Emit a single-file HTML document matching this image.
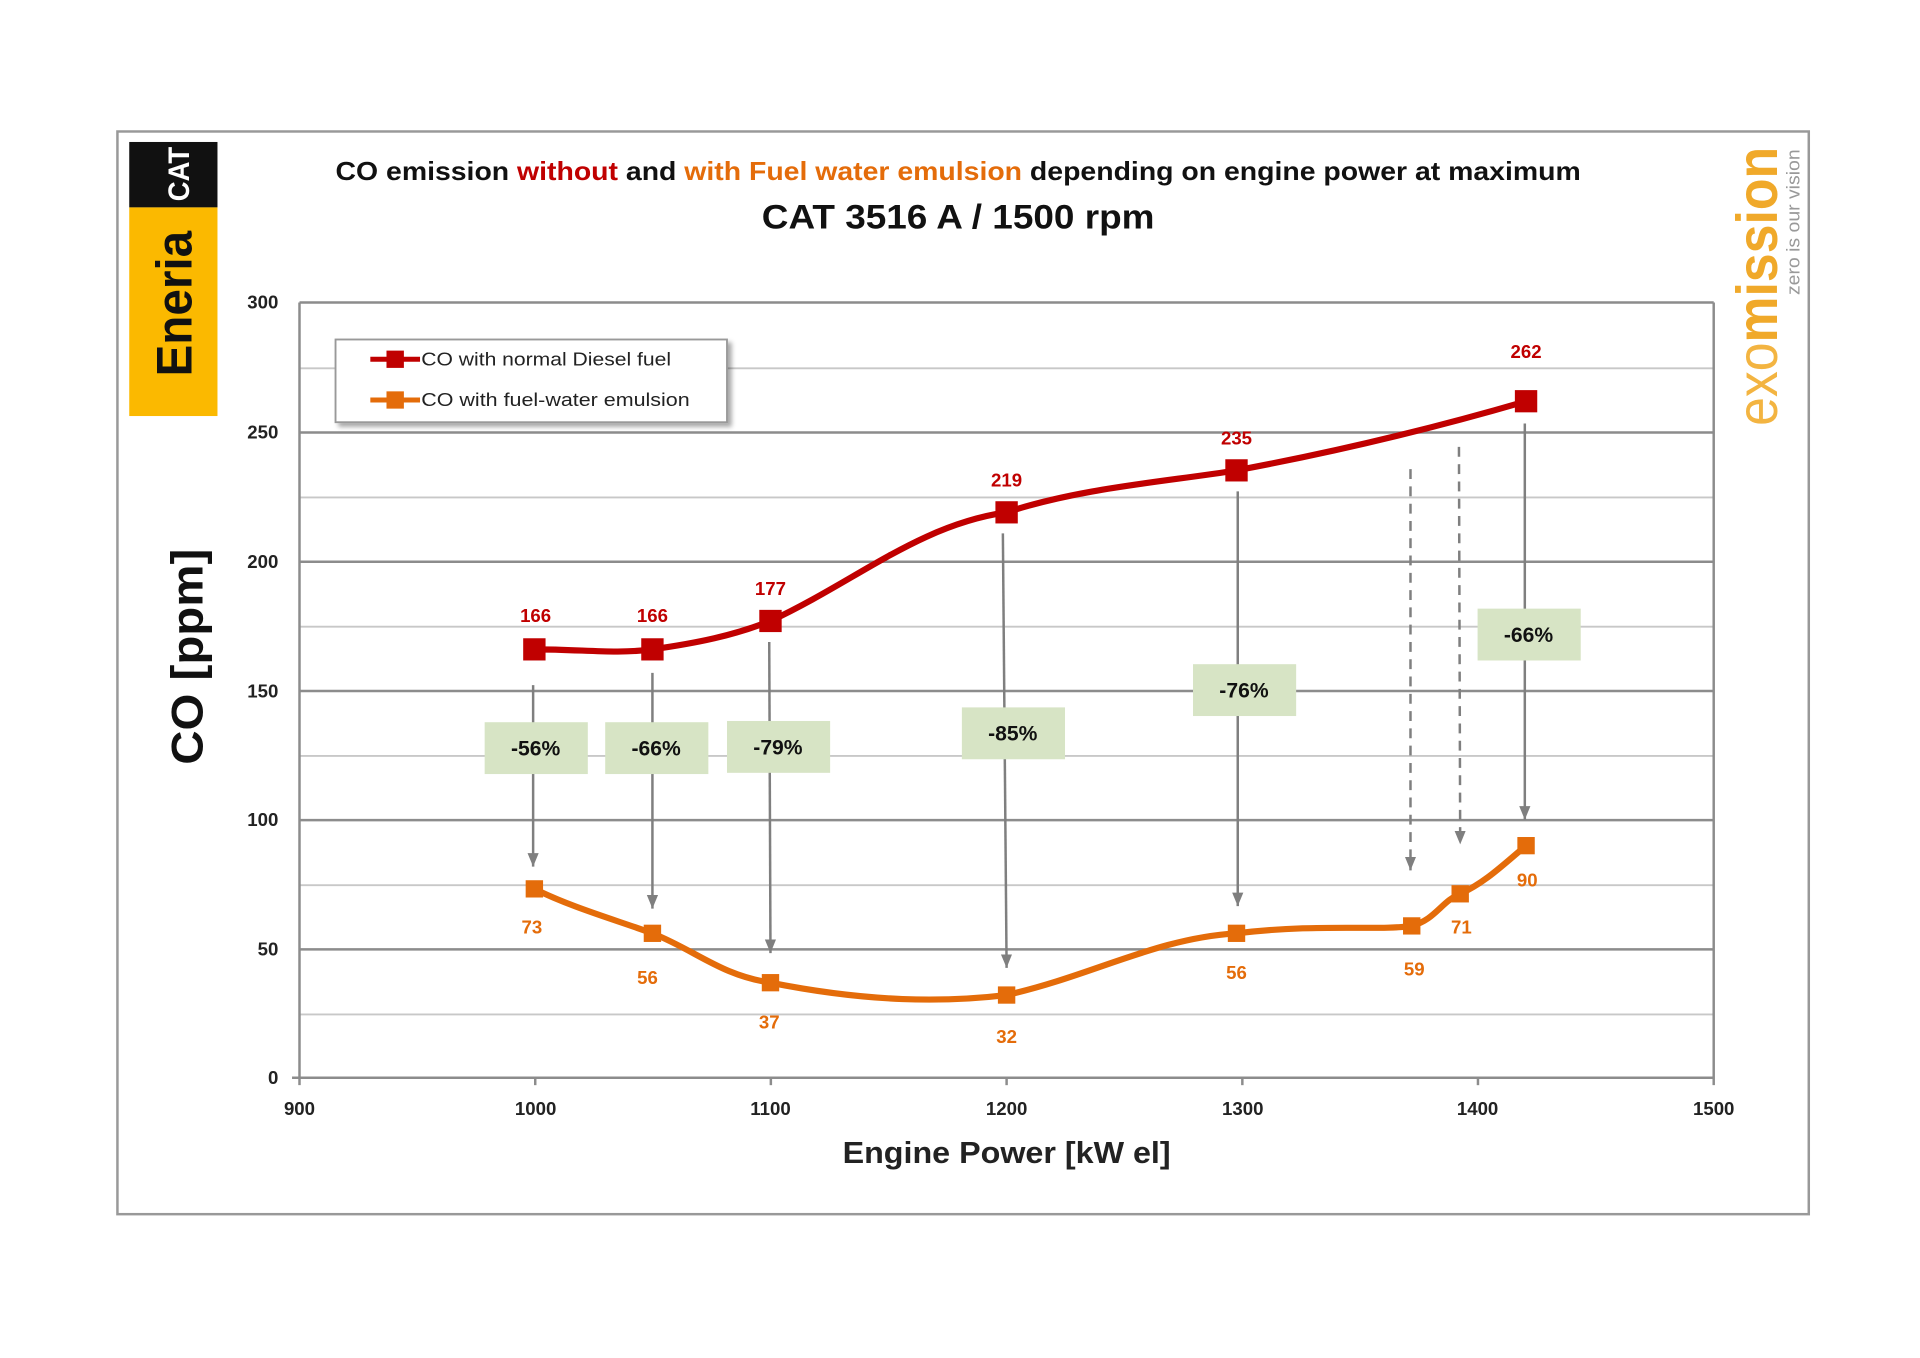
<!DOCTYPE html>
<html><head><meta charset="utf-8"><style>
html,body{margin:0;padding:0;background:#fff;}
svg{display:block;font-family:"Liberation Sans",sans-serif;}
</style></head><body>
<svg width="1920" height="1358" viewBox="0 0 1545 1100" preserveAspectRatio="none" xmlns="http://www.w3.org/2000/svg">
<defs>
<marker id="ah" markerWidth="12" markerHeight="10" refX="11" refY="4.5" orient="auto" markerUnits="userSpaceOnUse">
<path d="M0,0 L11,4.5 L0,9 Z" fill="#7f7f7f"/></marker>
<filter id="sh" x="-5%" y="-10%" width="115%" height="130%"><feDropShadow dx="3" dy="3" stdDeviation="2" flood-color="#000" flood-opacity="0.35"/></filter>
</defs>
<rect x="94.5" y="106.5" width="1361" height="877" fill="#fff" stroke="#999" stroke-width="2"/>
<!-- Eneria logo -->
<rect x="104" y="115" width="71" height="53" fill="#111"/>
<text transform="translate(152,141) rotate(-90)" text-anchor="middle" font-size="24" font-weight="bold" fill="#fff" textLength="44" lengthAdjust="spacingAndGlyphs">CAT</text>
<rect x="104" y="168" width="71" height="169" fill="#fbb900"/>
<text transform="translate(154,246) rotate(-90)" text-anchor="middle" font-size="40" font-weight="bold" fill="#111" textLength="118" lengthAdjust="spacingAndGlyphs">Eneria</text>
<!-- exomission logo -->
<text transform="translate(1430,232) rotate(-90)" text-anchor="middle" font-size="46" font-weight="bold" fill="#f0a92a" textLength="226" lengthAdjust="spacingAndGlyphs"><tspan fill="#f3b441" font-weight="normal">exo</tspan>mission</text>
<text transform="translate(1448,180) rotate(-90)" text-anchor="middle" font-size="15" fill="#999" textLength="118" lengthAdjust="spacingAndGlyphs">zero is our vision</text>
<!-- titles -->
<text x="771" y="146" text-anchor="middle" font-size="21" font-weight="bold" fill="#111" textLength="1002" lengthAdjust="spacingAndGlyphs">CO emission <tspan fill="#c00000">without</tspan> and <tspan fill="#e46c0a">with Fuel water emulsion</tspan> depending on engine power at maximum</text>
<text x="771" y="185" text-anchor="middle" font-size="28" font-weight="bold" fill="#111" textLength="316" lengthAdjust="spacingAndGlyphs">CAT 3516 A / 1500 rpm</text>
<!-- grid -->
<g stroke="#c8c8c8" stroke-width="1.5">
<line x1="241" x2="1379" y1="298.3" y2="298.3"/><line x1="241" x2="1379" y1="402.9" y2="402.9"/>
<line x1="241" x2="1379" y1="507.6" y2="507.6"/><line x1="241" x2="1379" y1="612.3" y2="612.3"/>
<line x1="241" x2="1379" y1="717" y2="717"/><line x1="241" x2="1379" y1="821.7" y2="821.7"/>
</g>
<g stroke="#8c8c8c" stroke-width="2">
<line x1="241" x2="1379" y1="245" y2="245"/><line x1="241" x2="1379" y1="350.3" y2="350.3"/>
<line x1="241" x2="1379" y1="455" y2="455"/><line x1="241" x2="1379" y1="559.7" y2="559.7"/>
<line x1="241" x2="1379" y1="664.3" y2="664.3"/><line x1="241" x2="1379" y1="769" y2="769"/>
<line x1="235" x2="1379" y1="873" y2="873"/>
<line x1="241" x2="241" y1="245" y2="879"/><line x1="1379" x2="1379" y1="245" y2="879"/>
<line x1="430.7" x2="430.7" y1="873" y2="879"/><line x1="620.3" x2="620.3" y1="873" y2="879"/>
<line x1="810" x2="810" y1="873" y2="879"/><line x1="999.7" x2="999.7" y1="873" y2="879"/>
<line x1="1189.3" x2="1189.3" y1="873" y2="879"/>
</g>
<g font-size="15" font-weight="bold" fill="#222" text-anchor="end">
<text x="224" y="250">300</text><text x="224" y="355">250</text><text x="224" y="460">200</text>
<text x="224" y="565">150</text><text x="224" y="669">100</text><text x="224" y="774">50</text><text x="224" y="878">0</text>
</g>
<g font-size="15" font-weight="bold" fill="#222" text-anchor="middle">
<text x="241" y="903">900</text><text x="431" y="903">1000</text><text x="620" y="903">1100</text>
<text x="810" y="903">1200</text><text x="1000" y="903">1300</text><text x="1189" y="903">1400</text><text x="1379" y="903">1500</text>
</g>
<text x="810" y="942" text-anchor="middle" font-size="25" font-weight="bold" fill="#222" textLength="264" lengthAdjust="spacingAndGlyphs">Engine Power [kW el]</text>
<text transform="translate(163,532) rotate(-90)" text-anchor="middle" font-size="36" font-weight="bold" fill="#111" textLength="175" lengthAdjust="spacingAndGlyphs">CO [ppm]</text>
<!-- arrows -->
<g stroke="#7f7f7f" stroke-width="2" fill="none" marker-end="url(#ah)">
<line x1="429" y1="555" x2="429" y2="702"/>
<line x1="525" y1="545" x2="525" y2="736"/>
<line x1="619" y1="520" x2="620" y2="772"/>
<line x1="807" y1="432" x2="810" y2="784"/>
<line x1="996" y1="398" x2="996" y2="734"/>
<line x1="1227" y1="343" x2="1227" y2="664"/>
<line x1="1135" y1="380" x2="1135" y2="705" stroke-dasharray="8,6"/>
<line x1="1174" y1="362" x2="1175" y2="684" stroke-dasharray="8,6"/>
</g>
<!-- green boxes -->
<g fill="#d7e4c5">
<rect x="390" y="585" width="83" height="42"/><rect x="487" y="585" width="83" height="42"/>
<rect x="585" y="584" width="83" height="42"/><rect x="774" y="573" width="83" height="42"/>
<rect x="960" y="538" width="83" height="42"/><rect x="1189" y="493" width="83" height="42"/>
</g>
<g font-size="17" font-weight="bold" fill="#111" text-anchor="middle">
<text x="431" y="612">-56%</text><text x="528" y="612">-66%</text><text x="626" y="611">-79%</text>
<text x="815" y="600">-85%</text><text x="1001" y="565">-76%</text><text x="1230" y="520">-66%</text>
</g>
<!-- series -->
<path d="M430,526 C470,526 495,530 525,526 C560,521 590,515 620,503 C690,470 740,425 810,415 C870,395 940,390 995,381 C1080,365 1160,345 1228,325" fill="none" stroke="#c00000" stroke-width="5"/>
<path d="M430,720 C460,735 495,745 525,756 C560,770 580,790 620,796 C700,812 760,812 810,806 C880,790 930,760 995,756 C1060,748 1110,754 1136,750 C1155,745 1160,730 1175,724 C1195,715 1210,700 1228,685" fill="none" stroke="#e46c0a" stroke-width="5"/>
<g fill="#c00000">
<rect x="421" y="517" width="18" height="18"/><rect x="516" y="517" width="18" height="18"/>
<rect x="611" y="494" width="18" height="18"/><rect x="801" y="406" width="18" height="18"/>
<rect x="986" y="372" width="18" height="18"/><rect x="1219" y="316" width="18" height="18"/>
</g>
<g fill="#e46c0a">
<rect x="423" y="713" width="14" height="14"/><rect x="518" y="749" width="14" height="14"/>
<rect x="613" y="789" width="14" height="14"/><rect x="803" y="799" width="14" height="14"/>
<rect x="988" y="749" width="14" height="14"/><rect x="1129" y="743" width="14" height="14"/>
<rect x="1168" y="717" width="14" height="14"/><rect x="1221" y="678" width="14" height="14"/>
</g>
<g font-size="15" font-weight="bold" fill="#c00000" text-anchor="middle">
<text x="431" y="504">166</text><text x="525" y="504">166</text><text x="620" y="482">177</text>
<text x="810" y="394">219</text><text x="995" y="360">235</text><text x="1228" y="290">262</text>
</g>
<g font-size="15" font-weight="bold" fill="#e46c0a" text-anchor="middle">
<text x="428" y="756">73</text><text x="521" y="797">56</text><text x="619" y="833">37</text>
<text x="810" y="845">32</text><text x="995" y="793">56</text><text x="1138" y="790">59</text>
<text x="1176" y="756">71</text><text x="1229" y="718">90</text>
</g>
<!-- legend -->
<rect x="270" y="275" width="315" height="67" fill="#fff" stroke="#999" stroke-width="1.5" filter="url(#sh)"/>
<line x1="298" y1="291" x2="338" y2="291" stroke="#c00000" stroke-width="4"/>
<rect x="311" y="284" width="14" height="14" fill="#c00000"/>
<line x1="298" y1="324" x2="338" y2="324" stroke="#e46c0a" stroke-width="4"/>
<rect x="311" y="317" width="14" height="14" fill="#e46c0a"/>
<text x="339" y="296" font-size="15" fill="#222" textLength="201" lengthAdjust="spacingAndGlyphs">CO with normal Diesel fuel</text>
<text x="339" y="329" font-size="15" fill="#222" textLength="216" lengthAdjust="spacingAndGlyphs">CO with fuel-water emulsion</text>
</svg>
</body></html>
